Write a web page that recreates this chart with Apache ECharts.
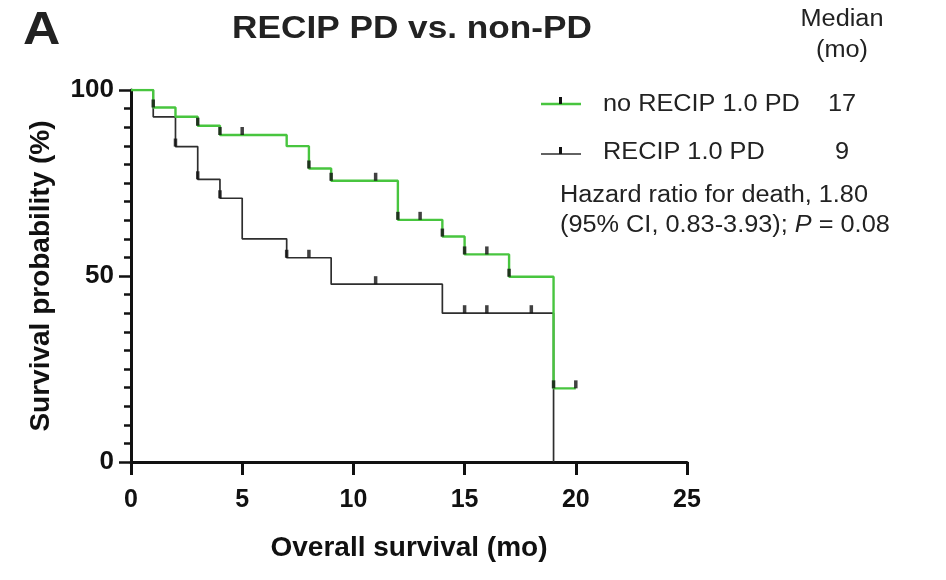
<!DOCTYPE html>
<html>
<head>
<meta charset="utf-8">
<script src="https://cdn.jsdelivr.net/npm/echarts@6/dist/echarts.min.js"></script>
<style>
  html, body { margin: 0; padding: 0; background: #fff; }
  #chart { width: 946px; height: 580px; }
</style>
</head>
<body>
<div id="chart"></div>
<script>
// Kaplan-Meier steps (months, survival %)
const greenTimes = [0, 1, 2, 3, 4, 7, 8, 9, 12, 14, 15, 17, 19, 20];
const greenSurv = [100, 95.3, 92.8, 90.4, 87.9, 84.9, 78.9, 75.6, 65.1, 60.6, 55.8, 49.8, 19.8, 19.8];
const greenCensor = [1, 3, 4, 5, 8, 9, 11, 12, 13, 14, 15, 16, 17, 19, 20];

const blackTimes = [0, 1, 2, 3, 4, 5, 7, 9, 14, 19];
const blackSurv = [100, 92.8, 84.8, 76.0, 70.9, 60.0, 54.9, 47.8, 40.0, 0];
const blackCensor = [2, 3, 4, 7, 8, 11, 15, 16, 18];

const legendNames = ["no RECIP 1.0 PD", "RECIP 1.0 PD"];
const medians = ["17", "9"];

const FONT = "'Liberation Sans', Arial, sans-serif";
const GREEN = "#48c53f";
const DARK = "#2e2e2e";
const SX = 1.1; // the source picture is a little stretched sideways

function pairs(t, s) {
  return t.map((v, i) => [v, s[i]]);
}
// survival level at time t (last step at or before t)
function levelAt(t, times, surv) {
  let v = surv[0];
  for (let i = 0; i < times.length; i++) {
    if (times[i] <= t) v = surv[i];
  }
  return v;
}
function censorPts(c, times, surv) {
  return c.map(t => [t, levelAt(t, times, surv)]);
}
function txt(x, y, text, font, align) {
  return {
    type: "text", x: x, y: y, scaleX: SX,
    style: { text: text, font: font, fill: "#222", textAlign: align || "left", textVerticalAlign: "middle" }
  };
}

const chart = echarts.init(document.getElementById("chart"), null, { renderer: "canvas" });

chart.setOption({
  animation: false,
  backgroundColor: "#fff",
  grid: { left: 131, right: 259, top: 90, bottom: 118, containLabel: false },
  xAxis: {
    type: "value",
    min: 0,
    max: 25,
    interval: 5,
    name: "Overall survival (mo)",
    nameLocation: "middle",
    nameGap: 72,
    nameTextStyle: { fontFamily: FONT, fontSize: 28, fontWeight: "bold", color: "#111" },
    axisLine: { lineStyle: { color: "#111", width: 3 } },
    axisTick: { length: 13, lineStyle: { color: "#111", width: 3 } },
    axisLabel: {
      margin: 26,
      fontFamily: FONT,
      fontSize: 25,
      fontWeight: "bold",
      color: "#111"
    },
    splitLine: { show: false }
  },
  yAxis: {
    type: "value",
    min: 0,
    max: 100,
    interval: 50,
    name: "Survival probability (%)",
    nameLocation: "middle",
    nameGap: 76,
    nameTextStyle: { fontFamily: FONT, fontSize: 28, fontWeight: "bold", color: "#111" },
    axisLine: { show: true, lineStyle: { color: "#111", width: 3 } },
    axisTick: { show: true, length: 12, lineStyle: { color: "#111", width: 2.5 } },
    minorTick: { show: true, splitNumber: 10, length: 7, lineStyle: { color: "#111", width: 2.5 } },
    axisLabel: {
      margin: 17,
      fontFamily: FONT,
      fontSize: 26,
      fontWeight: "bold",
      color: "#111"
    },
    splitLine: { show: false },
    minorSplitLine: { show: false }
  },
  series: [
    {
      name: legendNames[1],
      type: "line",
      step: "end",
      showSymbol: false,
      data: pairs(blackTimes, blackSurv),
      lineStyle: { color: DARK, width: 1.7 },
      z: 2
    },
    {
      name: legendNames[0],
      type: "line",
      step: "end",
      showSymbol: false,
      data: pairs(greenTimes, greenSurv),
      lineStyle: { color: GREEN, width: 2.4 },
      z: 3
    },
    {
      type: "scatter",
      symbol: "rect",
      symbolSize: [3.5, 8],
      symbolOffset: [0, -4],
      itemStyle: { color: "#111" },
      data: censorPts(blackCensor, blackTimes, blackSurv),
      z: 4
    },
    {
      type: "scatter",
      symbol: "rect",
      symbolSize: [3.5, 8],
      symbolOffset: [0, -4],
      itemStyle: { color: "#111" },
      data: censorPts(greenCensor, greenTimes, greenSurv),
      z: 4
    }
  ],
  graphic: [
    // panel letter and title
    txt(23, 31, "A", "bold 47px " + FONT),
    txt(412, 29, "RECIP PD vs. non-PD", "bold 32px " + FONT, "center"),
    // median header
    txt(842, 20, "Median", "23px " + FONT, "center"),
    txt(842, 51, "(mo)", "23px " + FONT, "center"),
    // legend: no RECIP PD
    { type: "line", shape: { x1: 541, y1: 104, x2: 581, y2: 104 }, style: { stroke: GREEN, lineWidth: 2.4 } },
    { type: "rect", shape: { x: 559, y: 97, width: 3, height: 7 }, style: { fill: "#111" } },
    txt(603, 105, legendNames[0], "23px " + FONT),
    txt(842, 105, medians[0], "23px " + FONT, "center"),
    // legend: RECIP PD
    { type: "line", shape: { x1: 541, y1: 154, x2: 581, y2: 154 }, style: { stroke: DARK, lineWidth: 1.7 } },
    { type: "rect", shape: { x: 559, y: 147, width: 3, height: 7 }, style: { fill: "#111" } },
    txt(603, 153, legendNames[1], "23px " + FONT),
    txt(842, 153, medians[1], "23px " + FONT, "center"),
    // hazard ratio note
    txt(560, 196, "Hazard ratio for death, 1.80", "23px " + FONT),
    {
      type: "text", x: 560, y: 226, scaleX: SX,
      style: {
        text: "{n|(95% CI, 0.83-3.93); }{i|P}{n| = 0.08}",
        textVerticalAlign: "middle",
        rich: {
          n: { font: "23px " + FONT, fill: "#222" },
          i: { font: "italic 23px " + FONT, fill: "#222" }
        }
      }
    }
  ]
});
</script>
</body>
</html>
